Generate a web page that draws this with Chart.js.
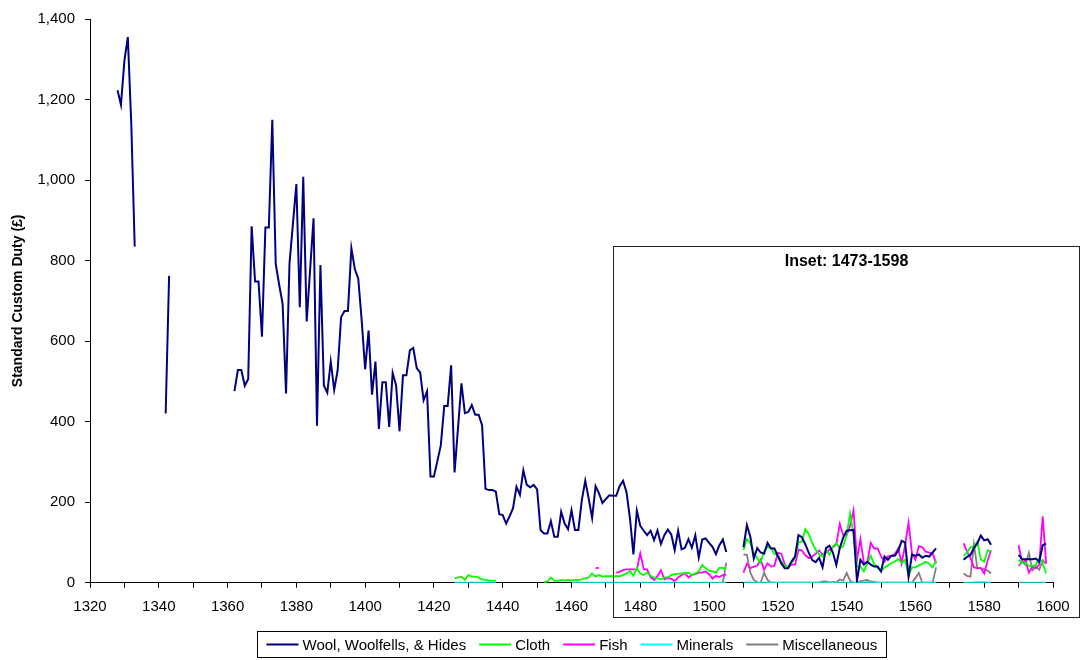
<!DOCTYPE html>
<html>
<head>
<meta charset="utf-8">
<title>Standard Custom Duty</title>
<script src="https://cdn.jsdelivr.net/npm/chart.js@4.4.1/dist/chart.umd.min.js"></script>
<style>
  html, body { margin: 0; padding: 0; background: #fff; }
  #wrap { width: 1087px; height: 660px; }
</style>
</head>
<body>
<div id="wrap"><canvas id="dutyChart" width="1087" height="660"></canvas></div>
<script>
// each series is a run of yearly values starting at its own first year, null = no record
const woolStart = 1328
const wool = [
  1223, 1187, 1296, 1355, 1140, 835, // 1328-1333
  null, null, null, null, null, null, null, null, // 1334-1341
  420, 762, // 1342-1343
  null, null, null, null, null, null, null, null, null, // 1344-1352
  null, null, null, null, null, null, null, null, null, // 1353-1361
  476, 528, 528, 489, 506, 885, 748, 748, 611, 882, // 1362
  882, 1150, 792, 740, 693, 470, 792, 891, 990, 684, // 1372
  1008, 649, 777, 905, 390, 789, 490, 472, 549, 479, // 1382
  527, 659, 675, 675, 831, 779, 755, 651, 530, 626, // 1392
  467, 549, 382, 498, 498, 387, 521, 490, 376, 515, // 1402
  515, 577, 583, 533, 522, 453, 475, 264, 264, 302, // 1412
  341, 439, 439, 540, 274, 384, 495, 421, 424, 441, // 1422
  417, 417, 391, 233, 230, 230, 226, 170, 168, 147, // 1432
  165, 185, 238, 218, 279, 243, 237, 243, 232, 131, // 1442
  122, 122, 153, 114, 114, 176, 147, 133, 180, 131, // 1452
  131, 205, 253, 209, 161, 240, 222, 198, 208, 217, // 1462
  216, 216, 240, 253, 225, 160, 70, 179, 141, 129, // 1472
  118, 129, 106, 130, 96, 118, 132, 120, 81, 129, // 1482
  83, 87, 108, 87, 118, 63, 107, 110, 99, 89, // 1492
  71, 93, 107, 76, // 1502-1505
  null, null, null, null, // 1506-1509
  88, 143, 114, 60, 86, 75, 72, 99, 85, 85, // 1510
  66, 48, 36, 36, 53, 65, 118, 113, 95, 74, // 1520
  56, 51, 62, 38, 86, 92, 75, 44, 86, 112, // 1530
  129, 130, 131, 5, 57, 45, 52, 45, 40, 40, // 1540
  28, 65, 57, 67, 67, 80, 104, 100, 15, 70, // 1550
  67, 70, 62, 67, 65, 75, 85, // 1560-1566
  null, null, null, null, null, null, null, // 1567-1573
  57, 64, 69, 86, 98, 117, 105, 108, 94, // 1574-1582
  null, null, null, null, null, null, null, // 1583-1589
  69, 59, 58, 58, 58, 60, 52, 93, 97 // 1590-1598
]

const clothStart = 1426
const cloth = [
  11, 13, 15, 7, 19, 15, 15, 13, 8, 7, 5, 5, 5, // 1426-1438
  null, null, null, null, null, null, null, null, null, null, null, null, null, // 1439-1451
  1, 3, 13, 5, 4, 7, 5, 7, 5, 7, // 1452
  7, 8, 11, 13, 23, 15, 19, 15, 16, 16, // 1462
  16, 16, 16, 19, 23, 29, 17, 36, 23, 19, // 1472
  25, 17, 13, 11, 8, 13, 13, 19, 21, 22, // 1482
  23, 23, 25, 19, 23, 28, 44, 36, 30, 28, // 1492
  25, 37, 37, 34, // 1502-1505
  null, null, null, null, // 1506-1509
  81, 108, 98, 74, 61, 50, 78, 89, 86, 71, // 1510
  70, 53, 41, 41, 49, 61, 100, 102, 133, 121, // 1520
  98, 82, 70, 65, 82, 69, 90, 98, 86, 90, // 1530
  119, 172, 120, 40, 40, 28, 48, 67, 46, 38, // 1540
  28, 38, 43, 49, 52, 59, 49, 57, 17, 38, // 1550
  38, 43, 47, 52, 47, 38, 55, // 1560-1566
  null, null, null, null, null, null, null, // 1567-1573
  66, 75, 88, 90, 102, 58, 52, 80, 77, // 1574-1582
  null, null, null, null, null, null, null, // 1583-1589
  57, 50, 50, 42, 42, 44, 61, 48, 23 // 1590-1598
]

const fishStart = 1467
const fish = [
  36, 37, // 1467-1468
  null, null, null, null, // 1469-1472
  25, 27, 31, 33, 33, 33, 33, 73, 33, 33, // 1473
  14, 7, 17, 31, 8, 11, 10, 4, 13, 19, // 1483
  24, 13, 19, 21, 25, 25, 28, 21, 10, 17, // 1493
  14, 19, 20, // 1503-1505
  null, null, null, null, // 1506-1509
  25, 47, 36, 40, 42, 57, 32, 48, 40, 42, // 1510
  74, 72, 45, 38, 45, 45, 82, 80, 68, 61, // 1520
  65, 72, 80, 70, 75, 82, 88, 95, 146, 118, // 1530
  118, 141, 180, 56, 108, 50, 50, 99, 85, 85, // 1540
  66, 52, 66, 66, 71, 85, 48, 93, 149, 73, // 1550
  57, 91, 88, 77, 75, 73, 48, // 1560-1566
  null, null, null, null, null, null, null, // 1567-1573
  98, 77, 61, 38, 36, 36, 23, 56, 80, // 1574-1582
  null, null, null, null, null, null, null, // 1583-1589
  93, 52, 55, 25, 40, 36, 45, 165, 48 // 1590-1598
]

const mineralsStart = 1426
const minerals = [
  0, 0, 0, 0, 0, 0, 0, 0, 0, 0, 0, 0, 0, // 1426-1438
  null, null, null, null, null, null, null, null, null, null, null, // 1439-1449
  null, null, null, null, null, null, null, null, null, null, // 1450-1459
  0, 0, 0, 0, 0, 0, 0, 0, 0, 0, // 1460
  0, 0, 0, 0, 0, 0, 0, 0, 0, 0, // 1470
  0, 0, 0, 0, 0, 0, 0, 0, 0, 0, // 1480
  0, 0, 0, 0, 0, 0, 0, 0, 0, 0, // 1490
  0, 0, 0, 0, 0, 0, // 1500-1505
  null, null, null, null, // 1506-1509
  0, 0, 0, 0, 0, 0, 0, 0, 0, 0, // 1510
  0, 0, 0, 0, 0, 0, 0, 0, 0, 0, // 1520
  0, 0, 0, 0, 0, 0, 0, 0, 0, 0, // 1530
  0, 0, 0, 0, 0, 1, 2, 1, 0, 0, // 1540
  0, 0, 0, 0, 0, 0, 0, 0, 0, 0, // 1550
  0, 0, 0, 0, 0, 0, 0, // 1560-1566
  null, null, null, null, null, null, null, // 1567-1573
  0, 0, 0, 1, 2, 1, 2, 0, 0, // 1574-1582
  null, null, null, null, null, null, null, // 1583-1589
  0, 0, 0, 0, 0, 0, 0, 0, 0 // 1590-1598
]

const miscStart = 1503
const misc = [
  0, 0, 50, // 1503-1505
  null, null, null, null, // 1506-1509
  70, 69, 25, 7, 1, 0, 25, 7, 0, 0, // 1510
  0, 0, 0, 0, 0, 0, 0, 0, 0, 0, // 1520
  0, 0, 0, 3, 3, 1, 2, 1, 8, 5, // 1530
  24, 5, 0, 0, 4, 5, 7, 3, 2, 0, // 1540
  0, 0, 0, 0, 0, 0, 0, 0, 0, 0, // 1550
  12, 24, 0, 0, 0, 0, 38, // 1560-1566
  null, null, null, null, null, null, null, // 1567-1573
  23, 17, 15, 96, 36, 36, 33, 30, 23, // 1574-1582
  null, null, null, null, null, null, null, // 1583-1589
  41, 52, 45, 74, 30, 40, 32, 56, 46 // 1590-1598
]

const seriesNames = ['Wool, Woolfells, & Hides', 'Cloth', 'Fish', 'Minerals', 'Miscellaneous']
const seriesColors = ['#000080', '#00FF00', '#FF00FF', '#00FFFF', '#808080']

const yearMin = 1320
const yearMax = 1600
const dutyMax = 1400
const insetTitle = 'Inset: 1473-1598'

const FONT = '"Liberation Sans", Arial, sans-serif'

/**
 * Turn a run of yearly values into {x, y} points.
 */
function toPoints (start, values) {
  return values.map((v, i) => ({ x: start + i, y: v }))
}

// Box and title of the inset that covers the later years
const insetBox = {
  id: 'insetBox',
  afterDatasetsDraw (chart) {
    const { ctx, chartArea } = chart
    const { x, y } = chart.scales
    const left = Math.round(x.getPixelForValue(1472.1)) + 0.5
    const right = Math.round(x.getPixelForValue(1607.7)) + 0.5
    const top = Math.round(y.getPixelForValue(837)) + 0.5
    const bottom = Math.round(chartArea.bottom + 34) + 0.5
    ctx.save()
    ctx.strokeStyle = '#222'
    ctx.lineWidth = 1
    ctx.strokeRect(left, top, right - left, bottom - top)
    ctx.fillStyle = '#000'
    ctx.font = 'bold 16px ' + FONT
    ctx.textAlign = 'center'
    ctx.textBaseline = 'middle'
    ctx.fillText(insetTitle, (left + right) / 2, top + 15)
    ctx.restore()
  }
}

// Excel style legend in a box, centred under the plot area
const boxLegend = {
  id: 'boxLegend',
  afterDraw (chart) {
    const { ctx, chartArea } = chart
    ctx.save()
    ctx.font = '15px ' + FONT
    const lineLen = 32
    const gapText = 4
    const gapItem = 13
    const padX = 9
    const items = chart.data.datasets.map(ds => ({
      label: ds.label,
      color: ds.borderColor,
      w: ctx.measureText(ds.label).width
    }))
    const total = items.reduce((s, it) => s + lineLen + gapText + it.w, 0) +
      gapItem * (items.length - 1) + padX * 2
    const cx = (chartArea.left + chartArea.right) / 2
    const left = Math.round(cx - total / 2) + 0.5
    const top = chart.height - 28.5
    const h = 26
    ctx.strokeStyle = '#000'
    ctx.lineWidth = 1
    ctx.strokeRect(left, top, Math.round(total), h)
    let xPos = left + padX
    const mid = top + h / 2
    ctx.textBaseline = 'middle'
    ctx.textAlign = 'left'
    items.forEach(it => {
      ctx.strokeStyle = it.color
      ctx.lineWidth = 2
      ctx.beginPath()
      ctx.moveTo(xPos, mid)
      ctx.lineTo(xPos + lineLen, mid)
      ctx.stroke()
      xPos += lineLen + gapText
      ctx.fillStyle = '#000'
      ctx.fillText(it.label, xPos, mid + 1)
      xPos += it.w + gapItem
    })
    ctx.restore()
  }
}

document.addEventListener('DOMContentLoaded', () => {
  const ctx = document.getElementById('dutyChart').getContext('2d')
  const runs = [
    [woolStart, wool],
    [clothStart, cloth],
    [fishStart, fish],
    [mineralsStart, minerals],
    [miscStart, misc]
  ]

  window.dutyChart = new Chart(ctx, {
    type: 'line',
    data: {
      datasets: runs.map(([start, values], i) => ({
        label: seriesNames[i],
        data: toPoints(start, values),
        borderColor: seriesColors[i],
        backgroundColor: seriesColors[i],
        borderWidth: i === 0 ? 2 : 1.8,
        pointRadius: 0,
        tension: 0,
        spanGaps: false,
        fill: false
      }))
    },
    options: {
      responsive: false,
      animation: false,
      devicePixelRatio: 1,
      layout: { padding: { left: 0, right: 34, top: 18, bottom: 0 } },
      plugins: {
        legend: { display: false },
        tooltip: { enabled: false }
      },
      scales: {
        x: {
          type: 'linear',
          min: yearMin,
          max: yearMax,
          afterFit: (s) => { s.height = 77.3 },
          ticks: {
            stepSize: 10,
            autoSkip: false,
            maxRotation: 0,
            padding: 10,
            color: '#000',
            font: { family: FONT, size: 15 },
            callback: (v) => (v % 20 === 0 ? String(v) : '')
          },
          grid: {
            drawOnChartArea: false,
            drawTicks: true,
            tickLength: 5,
            color: '#000'
          },
          border: { color: '#000', width: 1 }
        },
        y: {
          min: 0,
          max: dutyMax,
          afterFit: (s) => { s.width = 90 },
          ticks: {
            stepSize: 200,
            padding: 10,
            color: '#000',
            font: { family: FONT, size: 15 },
            callback: (v) => v.toLocaleString('en-US')
          },
          grid: {
            drawOnChartArea: false,
            drawTicks: true,
            tickLength: 5,
            color: '#000'
          },
          border: { color: '#000', width: 1 },
          title: {
            display: true,
            text: 'Standard Custom Duty (£)',
            color: '#000',
            font: { family: FONT, size: 14, weight: 'bold' },
            padding: { top: 10, bottom: 0 }
          }
        }
      }
    },
    plugins: [insetBox, boxLegend]
  })
})
</script>
</body>
</html>
